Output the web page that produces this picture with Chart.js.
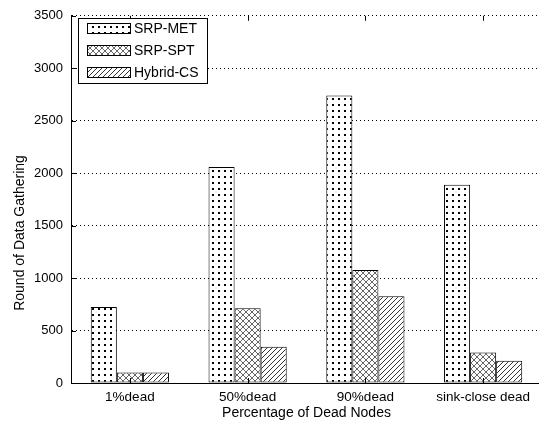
<!DOCTYPE html>
<html lang="en">
<head>
    <meta charset="UTF-8" />
    <title>Round of Data Gathering</title>
    <script src="https://cdn.jsdelivr.net/npm/chart.js"></script>
    <style>
        html, body { margin: 0; padding: 0; background: #fff; overflow: hidden; }
        #wrap { width: 545px; height: 423px; }
    </style>
</head>
<body>
    <div id="wrap"><canvas id="chart" width="545" height="423"></canvas></div>

    <script>
        // Datos
        const categorias = ['1%dead', '50%dead', '90%dead', 'sink-close dead'];
        const srpMet = [725, 2060, 2740, 1890];
        const srpSpt = [100, 712, 1077, 291];
        const hybridCs = [100, 345, 826, 212];
        const yMax = 3500;
        const yPaso = 500;

        const fuente = '"Liberation Sans", Arial, sans-serif';
        Chart.defaults.font.family = fuente;
        Chart.defaults.color = '#000';

        const canvas = document.getElementById('chart');
        const ctx = canvas.getContext('2d');

        // Tramas tipo MATLAB
        function trama(n, dibujar) {
            const c = document.createElement('canvas');
            c.width = n;
            c.height = n;
            const g = c.getContext('2d');
            g.fillStyle = '#fff';
            g.fillRect(0, 0, n, n);
            dibujar(g, n);
            return ctx.createPattern(c, 'repeat');
        }

        const puntos = trama(6, (g) => {
            g.fillStyle = '#000';
            g.fillRect(2, 2, 2, 2);
        });

        const cuadricula = trama(6, (g, n) => {
            g.fillStyle = '#666';
            for (let i = 0; i < n; i++) {
                g.fillRect(i, i, 1, 1);
                g.fillRect(i, n - 1 - i, 1, 1);
            }
        });

        const rayas = trama(5, (g, n) => {
            g.fillStyle = '#333';
            for (let i = 0; i < n; i++) {
                g.fillRect(i, n - 1 - i, 1, 1);
            }
        });

        // Leyenda, título del eje y y marcas de los ejes
        const extras = {
            id: 'extras',
            afterDraw(chart) {
                const c = chart.ctx;
                const area = chart.chartArea;
                const sx = chart.scales.x;
                const sy = chart.scales.y;
                c.save();

                // marcas hacia dentro
                c.strokeStyle = '#000';
                c.lineWidth = 1;
                c.beginPath();
                sy.ticks.forEach((t) => {
                    const y = Math.round(sy.getPixelForValue(t.value)) + 0.5;
                    c.moveTo(area.left, y);
                    c.lineTo(area.left + 5, y);
                });
                categorias.forEach((_, i) => {
                    const x = Math.round(sx.getPixelForValue(i)) + 0.5;
                    c.moveTo(x, area.top);
                    c.lineTo(x, area.top + 5);
                    c.moveTo(x, area.bottom);
                    c.lineTo(x, area.bottom - 5);
                });
                c.stroke();

                // título del eje y
                c.save();
                c.translate(20, 233);
                c.rotate(-Math.PI / 2);
                c.font = '14px ' + fuente;
                c.fillStyle = '#000';
                c.textAlign = 'center';
                c.textBaseline = 'middle';
                c.fillText('Round of Data Gathering', 0, 0);
                c.restore();

                // leyenda
                c.fillStyle = '#fff';
                c.fillRect(78.5, 18.5, 129, 65);
                c.strokeRect(78.5, 18.5, 129, 65);
                c.font = '14px ' + fuente;
                c.textAlign = 'left';
                c.textBaseline = 'middle';
                chart.data.datasets.forEach((ds, i) => {
                    const y = 23 + i * 22;
                    c.fillStyle = ds.backgroundColor;
                    c.fillRect(87, y, 44, 11);
                    c.strokeRect(87.5, y + 0.5, 43, 10);
                    c.fillStyle = '#000';
                    c.fillText(ds.label, 134, y + 6);
                });

                c.restore();
            }
        };

        const chart = new Chart(ctx, {
            type: 'bar',
            data: {
                labels: categorias,
                datasets: [
                    { label: 'SRP-MET', data: srpMet, backgroundColor: puntos },
                    { label: 'SRP-SPT', data: srpSpt, backgroundColor: cuadricula },
                    { label: 'Hybrid-CS', data: hybridCs, backgroundColor: rayas }
                ]
            },
            options: {
                responsive: false,
                animation: false,
                devicePixelRatio: 1,
                layout: { padding: { top: 9, right: 3, left: 0, bottom: 0 } },
                datasets: {
                    bar: {
                        borderColor: '#000',
                        borderWidth: 1,
                        borderSkipped: false,
                        categoryPercentage: 0.664,
                        barPercentage: 1
                    }
                },
                plugins: {
                    legend: { display: false },
                    tooltip: { enabled: false }
                },
                scales: {
                    x: {
                        grid: { display: false, drawTicks: false },
                        border: { display: true, color: '#000', width: 1 },
                        ticks: { color: '#000', font: { size: 13.5 }, padding: 6 },
                        title: {
                            display: true,
                            text: 'Percentage of Dead Nodes',
                            color: '#000',
                            font: { size: 14 },
                            padding: { top: 0, bottom: 1 }
                        },
                        afterFit(s) { s.height = 40; }
                    },
                    y: {
                        min: 0,
                        max: yMax,
                        ticks: {
                            stepSize: yPaso,
                            color: '#000',
                            font: { size: 13 },
                            padding: 8,
                            callback: (v) => String(v)
                        },
                        grid: { color: '#000', lineWidth: 1, drawTicks: false },
                        border: { display: true, color: '#000', width: 1, dash: [1, 3] },
                        afterFit(s) { s.width = 71; }
                    }
                }
            },
            plugins: [extras]
        });
    </script>
</body>
</html>
